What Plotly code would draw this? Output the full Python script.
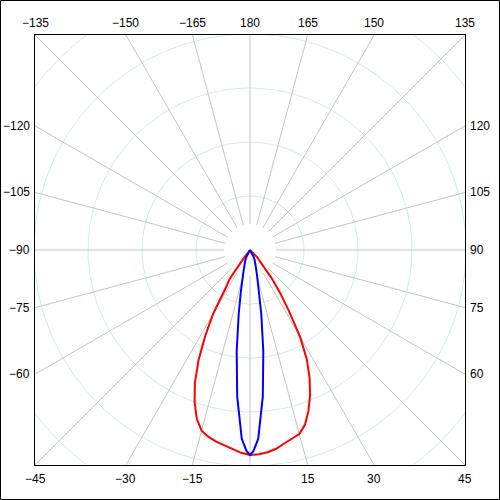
import numpy as np
import plotly.graph_objects as go

# intensity curves (angle in degrees from nadir, radius in chart units)
red_angles = [-47.5, -45, -42.5, -40, -37.5, -35, -32.5, -30, -27.5, -25, -22.5, -20, -17.5, -15,
              -12.5, -10, -7.5, -5, -2.5, 0, 2.5, 5, 7.5, 10, 12.5, 15, 17.5, 20, 22.5, 25,
              27.5, 30, 32.5, 35, 37.5, 40, 42.5, 45, 47.5]
red_values = [0, 0, 0, 0, 10, 36, 46, 74, 97, 122, 144, 162, 177, 187,
              191.5, 194.5, 197, 200, 203, 205, 204.5, 203, 200.5, 196.5, 193.5, 190.5, 183, 171, 157, 141,
              123, 100, 73, 53, 36, 23, 16, 10, 0]

blue_angles = [-35, -32.5, -30, -27.5, -25, -22.5, -20, -17.5, -15, -12.5, -10, -7.5, -5, -2.5, -1,
               0, 1, 2.5, 5, 7.5, 10, 12.5, 15, 17.5, 20, 22.5, 25, 27.5, 30, 32.5, 35]
blue_values = [0, 2, 5, 8, 11, 14, 17, 21, 28, 42, 65, 102, 147, 189, 201,
               205, 201, 189, 147, 102, 65, 42, 28, 21, 17, 14, 11, 8, 5, 2, 0]

ring_radii = [54, 108, 162, 216, 270]
spoke_angles = list(range(-165, 181, 15))
label_angles = [a for a in spoke_angles if a != 0]

HALF = 215
SPOKE_START = 26
SPOKE_END = 330
FONT = dict(family="Liberation Sans, Arial, sans-serif", size=12, color="black")


def to_xy(angles, radii):
    g = np.radians(np.asarray(angles, dtype=float))
    r = np.asarray(radii, dtype=float)
    return r * np.sin(g), -r * np.cos(g)


def edge_label(angle):
    sx, sy = np.sin(np.radians(angle)), -np.cos(np.radians(angle))
    t = HALF / max(abs(sx), abs(sy))
    x, y = sx * t, sy * t
    text = str(angle).replace("-", "\u2212")
    if abs(sy) >= abs(sx) - 1e-9:
        if sy > 0:
            return dict(x=x, y=HALF, text=text, xanchor="center", yanchor="bottom", yshift=3)
        return dict(x=x, y=-HALF, text=text, xanchor="center", yanchor="top", yshift=-5)
    if sx < 0:
        return dict(x=-HALF, y=y, text=text, xanchor="right", yanchor="middle", xshift=-3)
    return dict(x=HALF, y=y, text=text, xanchor="left", yanchor="middle", xshift=3)


fig = go.Figure()

theta = np.linspace(0, 360, 361)
for r in ring_radii:
    cx, cy = to_xy(theta, [r] * len(theta))
    fig.add_trace(go.Scatter(x=cx, y=cy, mode="lines", line=dict(color="#d2e9ef", width=1),
                             hoverinfo="skip", showlegend=False))

for a in spoke_angles:
    sx, sy = to_xy([a, a], [SPOKE_START, SPOKE_END])
    fig.add_trace(go.Scatter(x=sx, y=sy, mode="lines", line=dict(color="#c4c4c4", width=1),
                             hoverinfo="skip", showlegend=False))

rx, ry = to_xy(red_angles, red_values)
fig.add_trace(go.Scatter(x=rx, y=ry, mode="lines", line=dict(color="#ff0000", width=2),
                         name="C0-C180", showlegend=False))

bx, by = to_xy(blue_angles, blue_values)
fig.add_trace(go.Scatter(x=bx, y=by, mode="lines", line=dict(color="#0000ff", width=2),
                         name="C90-C270", showlegend=False))

for a in label_angles:
    fig.add_annotation(xref="x", yref="y", showarrow=False, font=FONT, **edge_label(a))

axis = dict(range=[-HALF, HALF], showgrid=False, zeroline=False, showticklabels=False,
            ticks="", showline=True, mirror=True, linecolor="black", linewidth=1, fixedrange=True)
fig.update_xaxes(**axis)
fig.update_yaxes(**axis)

# outer border around the whole image
fig.add_shape(type="rect", xref="paper", yref="paper",
              x0=(0.5 - 35) / 430, x1=(499.5 - 35) / 430,
              y0=(0.5 - 35) / 430, y1=(499.5 - 35) / 430,
              line=dict(color="black", width=1), layer="above")

fig.update_layout(width=500, height=500, margin=dict(l=35, r=35, t=35, b=35),
                  plot_bgcolor="white", paper_bgcolor="white", showlegend=False)

fig.write_html("out.html", config={"displayModeBar": False},
               post_script="document.body.style.margin = '0';")
